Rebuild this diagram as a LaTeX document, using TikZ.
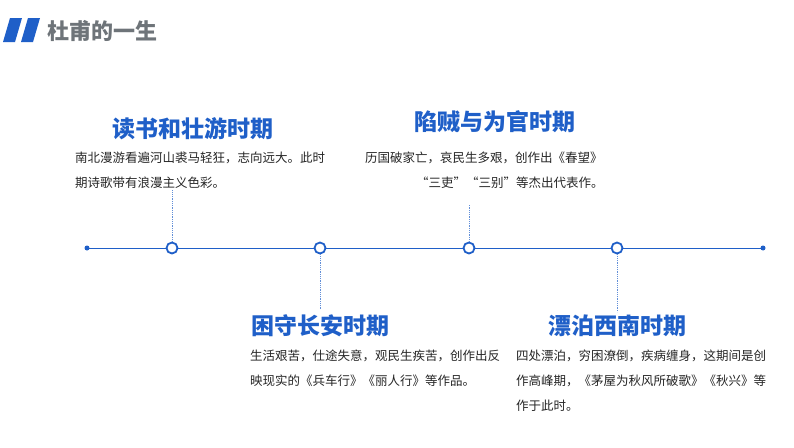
\documentclass[tikz,border=0pt]{standalone}
\usepackage{fontspec}
\setmainfont{Noto Sans CJK SC}
\definecolor{tblue}{HTML}{1F5FC8}
\definecolor{tgray}{HTML}{6E7479}
\tikzset{
 head/.style={text=tblue,font=\fontsize{23}{26}\selectfont\bfseries,anchor=center,inner sep=0},
 body/.style={text=black!85,font=\fontsize{12.5}{15}\selectfont,anchor=west,inner sep=0},
 dot/.style={circle,draw=tblue,line width=1.8pt,fill=white,minimum size=11pt,inner sep=0},
 conn/.style={tblue!70,densely dotted,line width=0.8pt}
}
\begin{document}
\begin{tikzpicture}[x=1pt,y=-1pt]
\useasboundingbox[fill=white] (0,0) rectangle (794,447);
\fill[tblue] (10,18)--(22,18)--(15,42)--(3,42)--cycle;
\fill[tblue] (28,18)--(40,18)--(33,42)--(21,42)--cycle;
\node[text=tgray,font=\fontsize{22}{24}\selectfont\bfseries,anchor=west,inner sep=0] (title) at (47,31) {杜甫的一生};
\coordinate (L) at (87,248); \coordinate (R) at (763,248);
\draw[tblue,line width=1pt] (L)--(R);
\fill[tblue] (L) circle (2.5); \fill[tblue] (R) circle (2.5);
\node[dot] (c1) at (172,248) {};
\node[dot] (c2) at (320,248) {};
\node[dot] (c3) at (469,248) {};
\node[dot] (c4) at (617,248) {};
\coordinate (e1) at (172,190); \coordinate (e2) at (320,310);
\coordinate (e3) at (469,205); \coordinate (e4) at (617,312);
\draw[conn] (c1)--(e1); \draw[conn] (c2)--(e2); \draw[conn] (c3)--(e3); \draw[conn] (c4)--(e4);
\node[head] (h1) at (193,129) {读书和壮游时期};
\node[body] (t1a) at (75,158) {南北漫游看遍河山裘马轻狂，志向远大。此时};
\node[body] (t1b) at (75,183) {期诗歌带有浪漫主义色彩。};
\node[head] (h3) at (495,122) {陷贼与为官时期};
\node[body] (t3a) at (365,158) {历国破家亡，哀民生多艰，创作出《春望》};
\node[body] (t3b) at (416,183) {“三吏”“三别”等杰出代表作。};
\node[head] (h2) at (320,326) {困守长安时期};
\node[body] (t2a) at (250,356) {生活艰苦，仕途失意，观民生疾苦，创作出反};
\node[body] (t2b) at (250,381) {映现实的《兵车行》《丽人行》等作品。};
\node[head] (h4) at (617,326) {漂泊西南时期};
\node[body] (t4a) at (516,356) {四处漂泊，穷困潦倒，疾病缠身，这期间是创};
\node[body] (t4b) at (516,381) {作高峰期，《茅屋为秋风所破歌》《秋兴》等};
\node[body] (t4c) at (516,406) {作于此时。};
\end{tikzpicture}
\end{document}
